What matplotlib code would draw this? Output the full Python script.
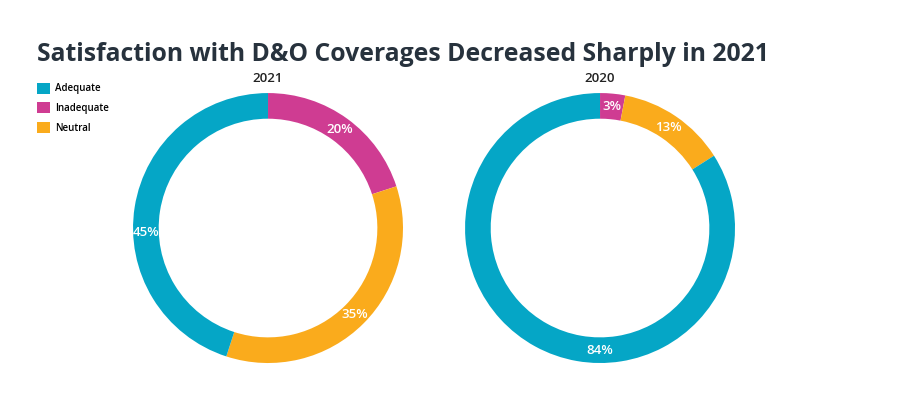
import matplotlib.pyplot as plt
import numpy as np
from matplotlib.patches import Patch

plt.rcParams['font.family'] = ['Open Sans', 'DejaVu Sans']

categories = ['Adequate', 'Inadequate', 'Neutral']
colors = {'Adequate': '#05A6C6', 'Inadequate': '#CF3C92', 'Neutral': '#FAAB1C'}

# order around the ring, clockwise from 12 o'clock
ring_order = ['Inadequate', 'Neutral', 'Adequate']
values_2021 = [20, 35, 45]
values_2020 = [3, 13, 84]

title = 'Satisfaction with D&O Coverages Decreased Sharply in 2021'
title_color = '#27323D'

# where the big-slice labels sit (degrees clockwise from top), None = slice middle
label_angles_2021 = [None, None, 268]
label_angles_2020 = [None, None, 180]

fig = plt.figure(figsize=(9, 3.97), dpi=100)
fig.patch.set_facecolor('white')

fig.text(0.041, 0.862, title, fontsize=17.8, fontweight='bold', color=title_color,
         ha='left', va='center')


def draw_donut(ax, values, year, label_angles):
    wedges, texts = ax.pie(
        values,
        colors=[colors[c] for c in ring_order],
        startangle=90,
        counterclock=False,
        radius=1,
        wedgeprops=dict(width=0.19, edgecolor='none'),
    )
    for w, v, a in zip(wedges, values, label_angles):
        if a is None:
            ang = np.deg2rad((w.theta1 + w.theta2) / 2)
        else:
            ang = np.deg2rad(90 - a)
        r = 0.905
        ax.text(r * np.cos(ang), r * np.sin(ang), f'{v}%', ha='center', va='center',
                color='white', fontsize=9.5, fontweight='semibold')
    ax.set_xlim(-1, 1)
    ax.set_ylim(-1, 1)
    ax.set_aspect('equal')
    ax.text(0, 1.11, year, ha='center', va='center', fontsize=9.5,
            fontweight='semibold', color='#222222')


ax1 = fig.add_axes([0.1478, 0.0856, 0.3, 0.680])
draw_donut(ax1, values_2021, '2021', label_angles_2021)

ax2 = fig.add_axes([0.5167, 0.0856, 0.3, 0.680])
draw_donut(ax2, values_2020, '2020', label_angles_2020)

handles = [Patch(facecolor=colors[c], edgecolor='none', label=c) for c in categories]
fig.legend(handles=handles, loc='upper left', bbox_to_anchor=(0.031, 0.814),
           frameon=False, handlelength=1.4, handleheight=1.4,
           handletextpad=0.45, labelspacing=0.8, prop=dict(weight='semibold', size=7))

fig.savefig('out.png', dpi=100, facecolor='white')
